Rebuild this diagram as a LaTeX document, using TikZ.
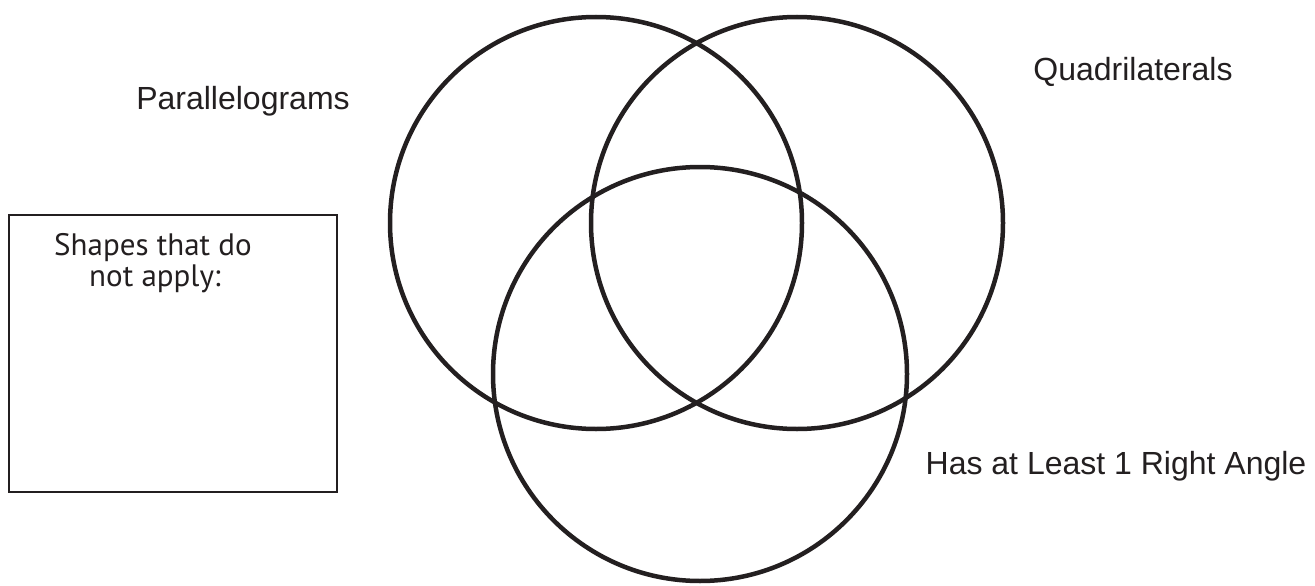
\documentclass[tikz,border=0pt]{standalone}
\usepackage{fontspec}
\setmainfont{Liberation Sans}
\newfontfamily\boxfont{PT Sans}
\definecolor{ink}{HTML}{231F20}
\begin{document}
\begin{tikzpicture}[x=1pt,y=-1pt,
  setcircle/.style={draw=ink, line width=4.5pt, circle, inner sep=0pt, minimum size=#1},
  setlabel/.style={text=ink, inner sep=0pt, anchor=base, font=\fontsize{32}{38}\selectfont},
  boxlabel/.style={text=ink, inner sep=0pt, anchor=base, font=\boxfont\fontsize{31}{36}\selectfont},
  listbox/.style={draw=ink, line width=2pt}]
\useasboundingbox (0,0) rectangle (1315,586);
\fill[white] (0,0) rectangle (1315,586);
\node[setcircle=412pt] (par) at (596,223) {};
\node[setcircle=412pt] (quad) at (797,223) {};
\node[setcircle=414pt] (right) at (700,374) {};
\node[setlabel] (parlab) at (243,110) {Parallelograms};
\node[setlabel] (quadlab) at (1133,81) {Quadrilaterals};
\node[setlabel] (rightlab) at (1116,474) {Has at Least 1 Right Angle};
\draw[listbox] (9,215) rectangle (337,492);
\node[boxlabel] (shapes1) at (153,255) {Shapes that do};
\node[boxlabel] (shapes2) at (155,286) {not apply:};
\end{tikzpicture}
\end{document}
